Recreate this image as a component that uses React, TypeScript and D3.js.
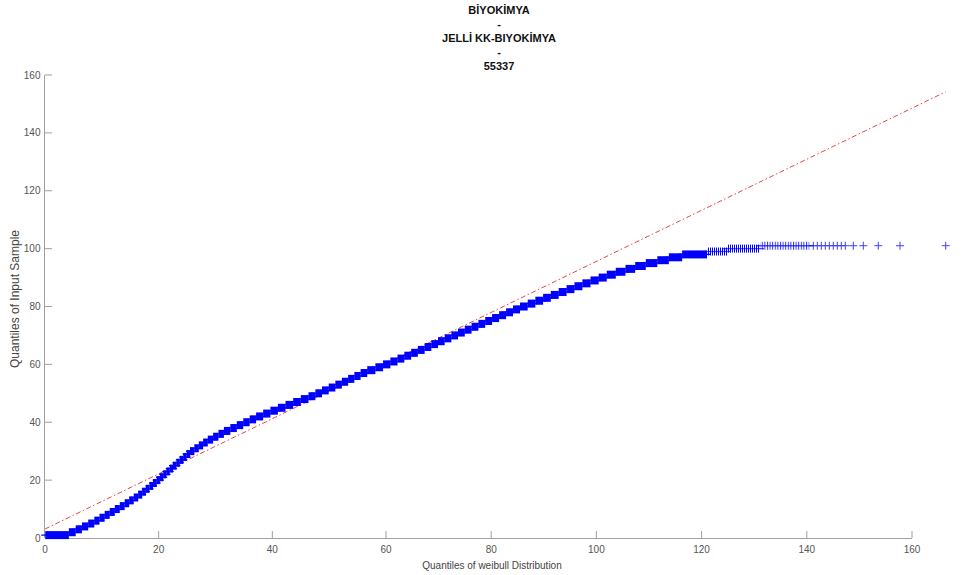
import React from "react";
import * as d3 from "d3";

// qq plot: sample quantiles vs weibull quantiles
const titleLines = ["BİYOKİMYA", "-", "JELLİ KK-BIYOKİMYA", "-", "55337"];

const xTicks = [0, 20, 40, 60, 80, 100, 120, 140, 160];
const yTicks = [0, 20, 40, 60, 80, 100, 120, 140, 160];

// sample is integer valued, so the dense part is a staircase:
// each sample value and the weibull quantile where its run begins
const sampleLevels = [
  1, 2, 3, 4, 5, 6, 7, 8, 9, 10, 11, 12, 13, 14, 15, 16, 17, 18, 19, 20,
  21, 22, 23, 24, 25, 26, 27, 28, 29, 30, 31, 32, 33, 34, 35, 36, 37, 38, 39, 40,
  41, 42, 43, 44, 45, 46, 47, 48, 49, 50, 51, 52, 53, 54, 55, 56, 57, 58, 59, 60,
  61, 62, 63, 64, 65, 66, 67, 68, 69, 70, 71, 72, 73, 74, 75, 76, 77, 78, 79, 80,
  81, 82, 83, 84, 85, 86, 87, 88, 89, 90, 91, 92, 93, 94, 95, 96, 97, 98, 99, 100,
  101,
];
const runStart = [
  0.05, 4.2, 5.4, 6.5, 7.6, 8.68, 9.59, 10.5, 11.39, 12.28, 13.16, 14.02, 14.81, 15.61, 16.4, 17.1, 17.74, 18.38, 19.01, 19.65,
  20.22, 20.8, 21.37, 21.95, 22.52, 23.12, 23.72, 24.32, 24.92, 25.51, 26.28, 27.06, 27.83, 28.64, 29.58, 30.52, 31.48, 32.61, 33.75, 34.88,
  36.01, 37.14, 38.39, 39.66, 40.98, 42.32, 43.67, 45.01, 46.36, 47.57, 48.74, 49.92, 51.09, 52.24, 53.34, 54.43, 55.53, 56.7, 58.13, 59.48,
  60.83, 62.19, 63.49, 64.78, 66.06, 67.35, 68.62, 69.89, 71.16, 72.43, 73.69, 74.98, 76.27, 77.57, 78.86, 80.17, 81.5, 82.83, 84.15, 85.48,
  86.94, 88.4, 89.87, 91.33, 92.83, 94.33, 95.83, 97.34, 98.88, 100.43, 101.97, 103.69, 105.53, 107.37, 109.39, 111.58, 113.77, 116.3, 121.03, 124.83,
  131.1,
];
const lastRunEnd = 140.5;

// sparse upper tail
const tailX = [141.24, 142.0, 142.76, 143.52, 144.28, 145.04, 145.8, 146.56, 147.32, 148.84, 150.74, 153.59, 157.72, 166.41];
const tailY = [101, 101, 101, 101, 101, 101, 101, 101, 101, 101, 101, 101, 101, 101];

// reference line ends
const refX = [0, 166.41];
const refY = [3.1, 154.2];

const W = 964;
const H = 575;
const BLUE = "#0000ff";
const FONT = "'Liberation Sans', Arial, sans-serif";

export default function App() {
  // picture is stretched unevenly in x, so the scale has a knot at 60
  const x = d3.scaleLinear().domain([0, 60, 160]).range([45, 386, 912]);
  const y = d3.scaleLinear().domain([0, 160]).range([538, 75]);

  const half = 4;
  const runs = sampleLevels.map((lv, i) => ({
    lv,
    x0: x(runStart[i]),
    x1: x(i + 1 < runStart.length ? runStart[i + 1] : lastRunEnd),
  }));

  const refLine = d3.line<number>()
    .x((d) => x(d))
    .y((d, i) => y(refY[i]));

  return (
    <svg
      width={W}
      height={H}
      style={{ position: "absolute", left: 0, top: 0, background: "#fff" }}
      fontFamily={FONT}
    >
      <defs>
        <pattern id="hatchA" width="2" height="10" patternUnits="userSpaceOnUse">
          <rect width="1" height="10" fill={BLUE} />
        </pattern>
        <pattern id="hatchB" width="2.6" height="10" patternUnits="userSpaceOnUse">
          <rect width="1" height="10" fill={BLUE} opacity={0.8} />
        </pattern>
      </defs>

      {/* title */}
      {titleLines.map((t, i) => (
        <text key={i} x={499} y={14 + i * 14} textAnchor="middle" fontSize={11} fontWeight="bold" fill="#111">
          {t}
        </text>
      ))}

      {/* axes */}
      <g stroke="#a0a0a0" strokeWidth={1} fill="none">
        <line x1={x(0)} x2={x(160)} y1={y(0) + 0.5} y2={y(0) + 0.5} />
        <line x1={x(0) - 0.5} x2={x(0) - 0.5} y1={y(0)} y2={y(160)} />
        {xTicks.map((t) => (
          <line key={"xt" + t} x1={x(t)} x2={x(t)} y1={y(0)} y2={y(0) - 7} />
        ))}
        {yTicks.map((t) => (
          <line key={"yt" + t} x1={x(0)} x2={x(0) + 7} y1={y(t)} y2={y(t)} />
        ))}
      </g>
      <g fontSize={10} fill="#555">
        {xTicks.map((t) => (
          <text key={"xl" + t} x={x(t)} y={553} textAnchor="middle">{t}</text>
        ))}
        {yTicks.map((t) => (
          <text key={"yl" + t} x={40.5} y={y(t)} dy="0.35em" textAnchor="end">{t}</text>
        ))}
      </g>
      <text x={492} y={569} textAnchor="middle" fontSize={10} fill="#444">
        Quantiles of weibull Distribution
      </text>
      <text transform="translate(19,299) rotate(-90)" textAnchor="middle" fontSize={12} fill="#444">
        Quantiles of Input Sample
      </text>

      {/* reference line */}
      <path d={refLine(refX) || ""} stroke="#e04848" strokeWidth={1} fill="none" strokeDasharray="5,2.5,1.5,2.5" />

      {/* dense staircase of + markers */}
      <g>
        {runs.map((r) => {
          const fill = r.lv >= 101 ? "url(#hatchB)" : r.lv >= 99 ? "url(#hatchA)" : BLUE;
          return (
            <g key={r.lv}>
              <rect x={r.x0} y={y(r.lv) - half} width={Math.max(r.x1 - r.x0, 1.5)} height={half * 2} fill={fill} />
              <line x1={r.x0 - half} x2={r.x1 + half} y1={y(r.lv)} y2={y(r.lv)} stroke={BLUE} strokeWidth={1.3} opacity={r.lv >= 99 ? 0.7 : 1} />
            </g>
          );
        })}
      </g>

      {/* tail points */}
      <g stroke={BLUE} strokeWidth={1} opacity={0.75}>
        {tailX.map((v, i) => (
          <path
            key={i}
            d={`M${x(v) - half},${y(tailY[i])}H${x(v) + half}M${x(v)},${y(tailY[i]) - half}V${y(tailY[i]) + half}`}
          />
        ))}
      </g>
    </svg>
  );
}
